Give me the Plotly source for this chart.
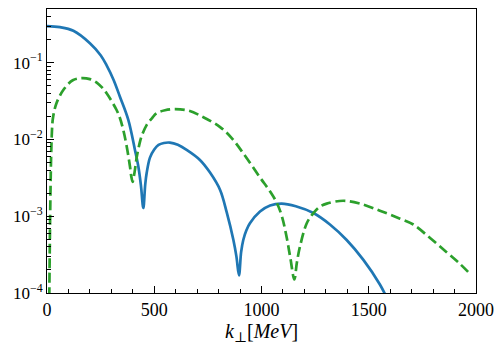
import plotly.graph_objects as go

# momentum grid and values
k_blue = [0, 60, 123, 200, 250, 278, 310, 340, 379, 410, 426, 438, 449, 458, 465, 480,
          500, 520, 545, 573, 610, 651, 713, 760, 807, 838, 869, 883, 895, 905, 915, 930,
          946, 993, 1040, 1094, 1160, 1242, 1319, 1397, 1475, 1552, 1600]
f_blue = [0.30, 0.29, 0.26, 0.179, 0.125, 0.092, 0.060, 0.036, 0.018, 0.0073, 0.0044, 0.0025,
          0.00128, 0.0026, 0.0037, 0.0058, 0.0074, 0.0085, 0.0090, 0.0091, 0.0085, 0.0073,
          0.0054, 0.0037, 0.0022, 0.00112, 0.00049, 0.0003, 0.00017, 0.00034, 0.00049,
          0.00066, 0.00081, 0.00115, 0.00138, 0.00146, 0.00135, 0.0011, 0.00078, 0.00049,
          0.00027, 0.000129, 0.00007]

k_green = [8, 22, 29, 45, 76, 120, 162, 200, 232, 255, 278, 325, 340, 355, 371, 387, 393,
           399, 405, 412, 418, 430, 441, 465, 490, 511, 550, 597, 660, 729, 807, 860, 915,
           993, 1040, 1071, 1095, 1118, 1135, 1153, 1165, 1180, 1211, 1242, 1270, 1304,
           1381, 1460, 1552, 1646, 1708, 1786, 1863, 1925, 1975]
f_green = [1e-5, 0.011, 0.020, 0.030, 0.044, 0.059, 0.063, 0.061, 0.055, 0.048, 0.040, 0.024,
           0.019, 0.0135, 0.0083, 0.0044, 0.0033, 0.0028, 0.0033, 0.0044, 0.0058, 0.0085,
           0.011, 0.0155, 0.019, 0.022, 0.024, 0.0248, 0.0237, 0.0195, 0.0145, 0.0105,
           0.0066, 0.0032, 0.0021, 0.0015, 0.0010, 0.00052, 0.00028, 0.00015, 0.00025,
           0.00041, 0.00081, 0.0011, 0.00132, 0.00146, 0.00159, 0.00146, 0.00118, 0.00093,
           0.00078, 0.00052, 0.00034, 0.00024, 0.000174]

y_major = [1e-4, 1e-3, 1e-2, 1e-1]
y_labels = ["10<sup>\u22124</sup>", "10<sup>\u22123</sup>", "10<sup>\u22122</sup>", "10<sup>\u22121</sup>"]
y_minor = [m * 10.0 ** e for e in range(-4, 0) for m in range(2, 10)]

serif = "Liberation Serif, DejaVu Serif, serif"

fig = go.Figure()
fig.add_trace(go.Scatter(
    x=k_blue, y=f_blue, mode="lines",
    line=dict(color="#1f77b4", width=2.7, shape="spline", smoothing=1),
))
fig.add_trace(go.Scatter(
    x=k_green, y=f_green, mode="lines",
    line=dict(color="#2ca02c", width=2.7, dash="10px,4.5px", shape="spline", smoothing=1),
))

fig.update_layout(
    width=503, height=349,
    margin=dict(l=47, r=27, t=9, b=56),
    paper_bgcolor="white", plot_bgcolor="white",
    showlegend=False,
    font=dict(family=serif, size=18, color="black"),
)
fig.update_xaxes(
    range=[0, 2000], automargin=False,
    tickvals=[0, 500, 1000, 1500, 2000],
    ticks="inside", ticklen=7, tickwidth=1, tickcolor="black",
    minor=dict(tickvals=list(range(100, 2000, 100)), ticks="inside", ticklen=4,
               tickwidth=1, tickcolor="black"),
    showline=True, linecolor="black", linewidth=1, mirror=True,
    showgrid=False, zeroline=False,
    title=dict(text="<i>k</i><sub>\u22a5</sub>[<i>MeV</i>]", font=dict(size=20), standoff=2),
)
fig.update_yaxes(
    type="log", range=[-4, -0.301], automargin=False,
    tickvals=y_major, ticktext=y_labels, tickfont=dict(size=17),
    ticks="inside", ticklen=7, tickwidth=1, tickcolor="black",
    minor=dict(tickvals=y_minor, ticks="inside", ticklen=4, tickwidth=1, tickcolor="black"),
    showline=True, linecolor="black", linewidth=1, mirror=True,
    showgrid=False, zeroline=False,
)

# the page body has a default 8px margin; drop it so the figure sits at the top-left
fig.write_html("out.html", config={"displayModeBar": False},
               post_script="document.body.style.margin='0';")
